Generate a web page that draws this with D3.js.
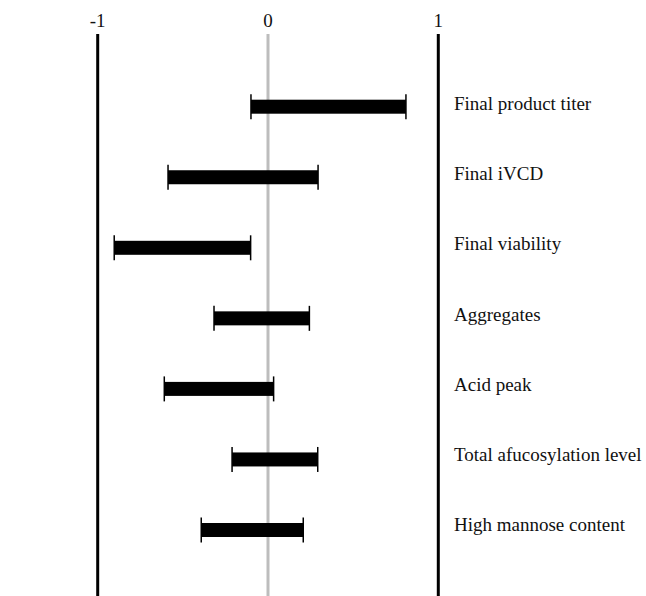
<!DOCTYPE html>
<html>
<head>
<meta charset="utf-8">
<script src="https://cdn.jsdelivr.net/npm/d3@7"></script>
<style>
  body { margin: 0; background: #fff; }
  text { font-family: "Liberation Serif", "Times New Roman", serif; fill: #111; }
</style>
</head>
<body>
<div id="chart"></div>
<script>
// effect ranges per response
const responses = ["Final product titer", "Final iVCD", "Final viability", "Aggregates",
    "Acid peak", "Total afucosylation level", "High mannose content"];
const lowValues = [-0.10, -0.587, -0.903, -0.317, -0.609, -0.211, -0.392];
const highValues = [0.81, 0.294, -0.102, 0.243, 0.033, 0.292, 0.207];
const axisTicks = [-1, 0, 1];

const width = 646, height = 596;

const svg = d3.select("#chart").append("svg")
    .attr("width", width)
    .attr("height", height);

let x = d3.scaleLinear().domain([-1, 1]).range([97.7, 438.3]);
let yBar = d3.scalePoint().domain(responses).range([106.7, 530]);
let yLabel = d3.scalePoint().domain(responses).range([110, 531]);

// vertical reference lines
svg.selectAll(".vline")
    .data(axisTicks)
    .join("line")
    .attr("class", "vline")
    .attr("x1", d => x(d)).attr("x2", d => x(d))
    .attr("y1", 34).attr("y2", height)
    .attr("stroke", d => d === 0 ? "#bdbdbd" : "#000")
    .attr("stroke-width", 3);

svg.selectAll(".tick-label")
    .data(axisTicks)
    .join("text")
    .attr("class", "tick-label")
    .attr("x", d => x(d))
    .attr("y", 27)
    .attr("text-anchor", "middle")
    .attr("font-size", 19)
    .text(d => d);

let rows = responses.map((r, i) => ({name: r, lo: lowValues[i], hi: highValues[i]}));

let barGroup = svg.selectAll(".bar")
    .data(rows)
    .join("g")
    .attr("class", "bar");

barGroup.append("rect")
    .attr("x", d => x(d.lo))
    .attr("y", d => yBar(d.name) - 7)
    .attr("width", d => x(d.hi) - x(d.lo))
    .attr("height", 14)
    .attr("fill", "#000");

// end caps
barGroup.selectAll(".cap")
    .data(d => [{v: d.lo, name: d.name}, {v: d.hi, name: d.name}])
    .join("line")
    .attr("class", "cap")
    .attr("x1", d => x(d.v)).attr("x2", d => x(d.v))
    .attr("y1", d => yBar(d.name) - 12.5)
    .attr("y2", d => yBar(d.name) + 12.5)
    .attr("stroke", "#000")
    .attr("stroke-width", 1.5);

svg.selectAll(".row-label")
    .data(responses)
    .join("text")
    .attr("class", "row-label")
    .attr("x", 454)
    .attr("y", d => yLabel(d))
    .attr("font-size", 19)
    .text(d => d);
</script>
</body>
</html>
